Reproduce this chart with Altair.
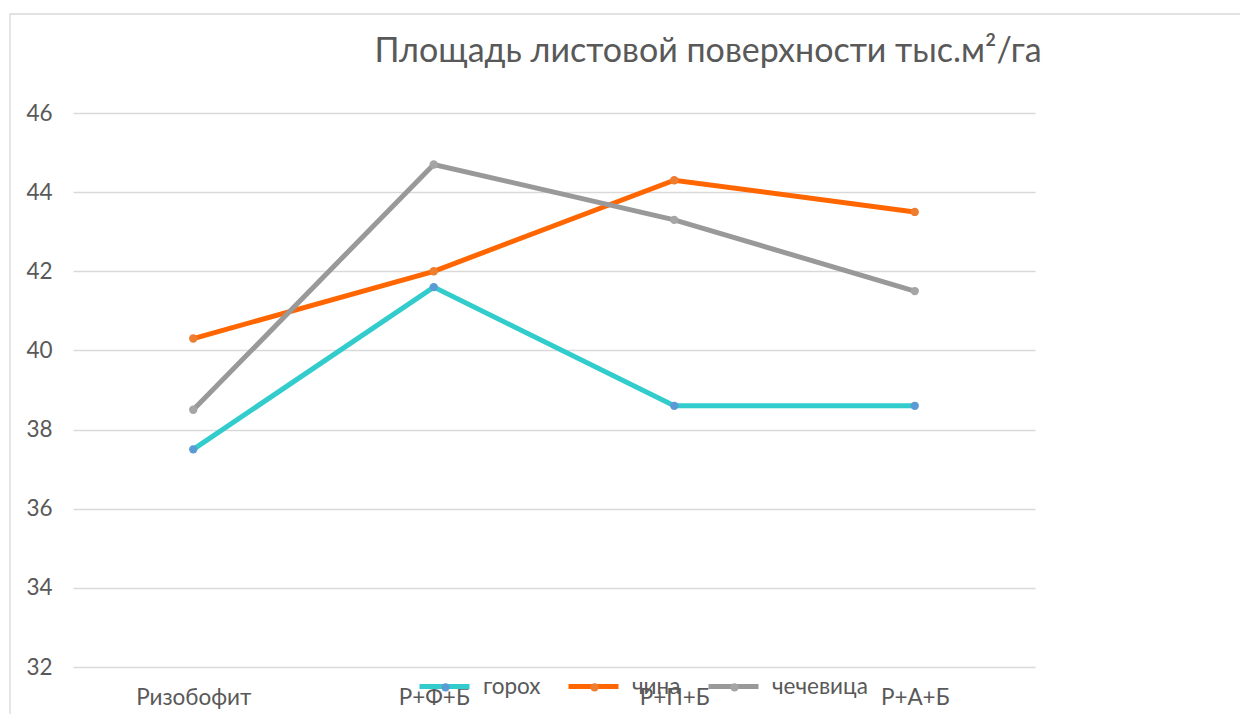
import altair as alt
import pandas as pd

categories = ["Ризобофит", "Р+Ф+Б", "Р+П+Б", "Р+А+Б"]
series = ["горох", "чина", "чечевица"]
gorokh = [37.5, 41.6, 38.6, 38.6]
china = [40.3, 42.0, 44.3, 43.5]
chechevitsa = [38.5, 44.7, 43.3, 41.5]
line_colors = ["#33CCCC", "#FF6600", "#999999"]
marker_colors = ["#5B9BD5", "#ED7D31", "#A5A5A5"]
y_ticks = [32, 34, 36, 38, 40, 42, 44, 46]
title_text = "Площадь листовой поверхности тыс.м²/га"

rows = []
for s, vals in zip(series, [gorokh, china, chechevitsa]):
    for c, v in zip(categories, vals):
        rows.append({"category": c, "series": s, "value": v})
df = pd.DataFrame(rows)

W, H = 962, 554
FONT = "Lato"
TXT = "#595959"
FS = 22.5
LX, LY = 344, 546

x_enc = alt.X(
    "category:N", sort=categories,
    scale=alt.Scale(type="point", padding=0.5),
    axis=alt.Axis(title=None, labelAngle=0, domain=False, ticks=False, grid=False,
                  labelFontSize=FS, labelColor=TXT, labelFont=FONT, labelPadding=19),
)
y_enc = alt.Y(
    "value:Q",
    scale=alt.Scale(domain=[32, 46], nice=False, zero=False),
    axis=alt.Axis(title=None, values=y_ticks, domain=False, ticks=False, grid=True,
                  gridColor="#D9D9D9", gridWidth=1.3, labelFontSize=FS, labelColor=TXT,
                  labelFont=FONT, labelPadding=21),
)

base = alt.Chart(df)

lines = base.mark_line(strokeWidth=5).encode(
    x=x_enc, y=y_enc,
    color=alt.Color(
        "series:N", sort=series,
        scale=alt.Scale(domain=series, range=line_colors),
        legend=alt.Legend(
            orient="none", legendX=LX, legendY=LY, direction="horizontal",
            title=None, symbolType="stroke", symbolStrokeWidth=5, symbolSize=2500,
            labelFontSize=FS, labelColor=TXT, labelFont=FONT, labelOffset=11,
            columnPadding=17,
        ),
    ),
)

points = base.mark_point(filled=True, size=70, opacity=1).encode(
    x=x_enc, y=y_enc,
    fill=alt.Fill(
        "series:N", sort=series,
        scale=alt.Scale(domain=series, range=marker_colors),
        legend=alt.Legend(
            orient="none", legendX=LX, legendY=LY + 17, direction="horizontal",
            title=None, symbolType="circle", symbolSize=70, symbolStrokeWidth=0,
            symbolOffset=17.3,
            labelFontSize=FS, labelColor=TXT, labelFont=FONT, labelOffset=34.3,
            labelOpacity=0, columnPadding=17,
        ),
    ),
)

border = alt.Chart(pd.DataFrame({"a": [0]})).mark_rect(
    fillOpacity=0, stroke="#D9D9D9", strokeWidth=1.3
).encode(x=alt.value(-63), x2=alt.value(1400), y=alt.value(-99), y2=alt.value(900))

title = alt.Chart(pd.DataFrame({"t": [title_text]})).mark_text(
    font=FONT, fontSize=34, color=TXT, align="center", baseline="alphabetic"
).encode(text="t:N", x=alt.value(635), y=alt.value(-51))

chart = alt.layer(border, lines, points, title).properties(
    width=W, height=H,
    autosize=alt.AutoSizeParams(type="none"),
    padding={"left": 65, "top": 105, "right": 205, "bottom": 47},
).resolve_legend(color="independent", fill="independent").configure_view(stroke=None)

chart.save("out.html", embed_options={"renderer": "svg", "actions": False})
